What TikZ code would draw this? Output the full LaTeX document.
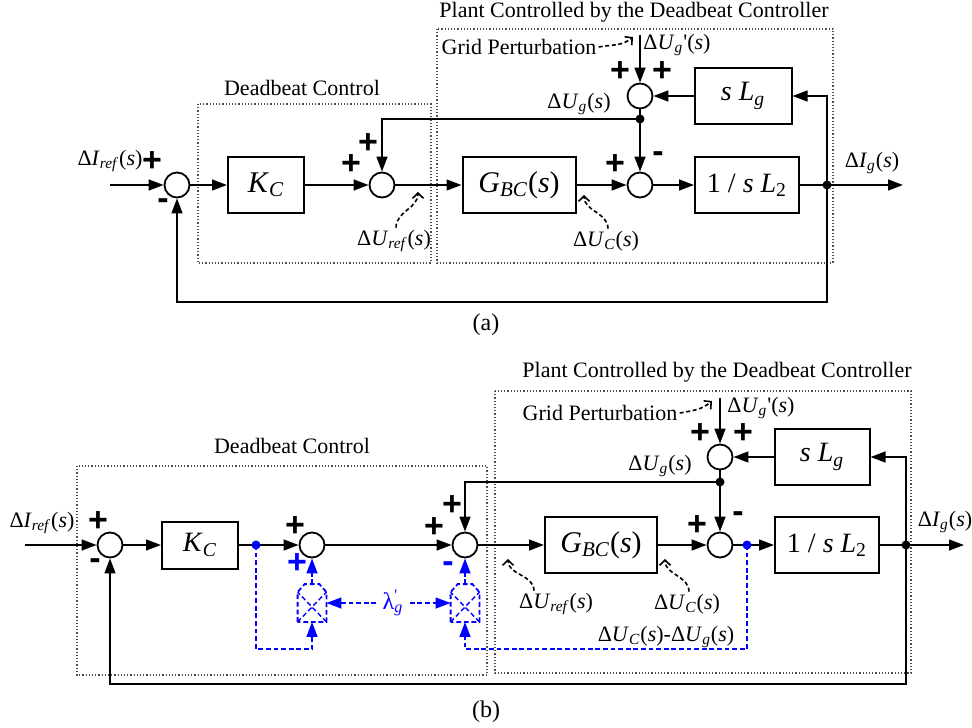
\documentclass[tikz,border=0pt]{standalone}
\usepackage{fontspec}
\setmainfont{Liberation Serif}
\setsansfont{Liberation Sans}
\usepackage{tikz}
\usetikzlibrary{positioning,arrows.meta,calc}
\newcommand{\dsig}[2]{Δ\textit{#1}\textsubscript{\textit{#2}}(\textit{s})}
\newcommand{\dsigp}[2]{Δ\textit{#1}\textsubscript{\textit{#2}}\textquotesingle(\textit{s})}

\begin{document}
\begin{tikzpicture}[
    x=0.5pt, y=-0.5pt,
    block/.style={rectangle, draw, line width=1pt, minimum height=28pt,
                  inner sep=0pt, font=\fontsize{15}{18}\selectfont},
    summer/.style={circle, draw, fill=white, line width=0.9pt, minimum size=12.5pt, inner sep=0pt},
    dot/.style={circle, fill, minimum size=4.5pt, inner sep=0pt},
    bdot/.style={dot, fill=blue},
    frame/.style={draw=black!70, densely dotted, line width=0.6pt},
    annot/.style={font=\fontsize{11}{13}\selectfont, inner sep=1pt},
    sign/.style={font=\fontsize{17}{17}\sffamily\bfseries, inner sep=0pt},
    arrow/.style={-{Triangle[length=7.5pt, width=5.4pt]}, line width=1pt},
    wire/.style={line width=1pt},
    bdash/.style={blue, dash pattern=on 2.4pt off 1.4pt, line width=1pt},
    barrow/.style={arrow, bdash},
    squig/.style={dash pattern=on 2pt off 1.3pt, line width=0.8pt,
                  -{Straight Barb[length=2.6pt, width=5.5pt]}},
    mult/.style={rectangle, minimum width=14pt, minimum height=18.5pt, inner sep=0pt},
]
\useasboundingbox (0,0) rectangle (972,727);

% ---------------- (a) ----------------
% frames
\draw[frame] (437,29) rectangle (833,263);
\draw[frame] (198,104) rectangle (431,263);
\node[annot] (plantA) at (634,12) {Plant Controlled by the Deadbeat Controller};
\node[annot] (dbA) at (302,88) {Deadbeat Control};

% blocks and summers
\node[summer] (s1a) at (177,185) {};
\node[block, minimum width=38pt] (kcA) at (266,185) {\textit{K}\textsubscript{\textit{C}}};
\node[summer] (s2a) at (382,185) {};
\node[block, minimum width=56.5pt] (gbcA) at (519,185) {\textit{G}\textsubscript{\textit{BC}}(\textit{s})};
\node[summer] (s3a) at (640,185) {};
\node[block, minimum width=52pt, font=\fontsize{14}{17}\selectfont] (l2A) at (747,185) {1 / \textit{s L}\textsubscript{2}};
\node[summer] (sgA) at (640,96) {};
\node[block, minimum width=48.5pt, font=\fontsize{14}{17}\selectfont] (lgA) at (743,96) {\textit{s L}\textsubscript{\textit{g}}};
\coordinate (inA) at (110,185);
\coordinate (outA) at (903,185);
\coordinate (brA) at (827,185);
\coordinate (ugA) at (640,119);
\coordinate (fbA) at (827,302);
\coordinate (topA) at (640,35);
\coordinate (gpA) at (633,37);

% connectors
\draw[arrow] (inA) -- (s1a);
\draw[arrow] (s1a) -- (kcA);
\draw[arrow] (kcA) -- (s2a);
\draw[arrow] (s2a) -- (gbcA);
\draw[arrow] (gbcA) -- (s3a);
\draw[arrow] (s3a) -- (l2A);
\draw[wire] (l2A) -- (brA);
\draw[arrow] (brA) -- (outA);
\draw[arrow] (brA) -- (fbA) -| (s1a);
\draw[arrow] (brA) |- (lgA);
\draw[arrow] (lgA) -- (sgA);
\draw[arrow] (topA) -- (sgA);
\draw[wire] (sgA) -- (ugA);
\draw[arrow] (ugA) -- (s3a);
\draw[arrow] (ugA) -| (s2a);
\node[dot] (brAdot) at (brA) {};
\node[dot] (ugAdot) at (ugA) {};

% labels
\node[annot] (irefA) at (110,161) {\dsig{I}{ref}};
\node[annot] (igA) at (872,163) {\dsig{I}{g}};
\node[annot] (ugpA) at (677,45) {\dsigp{U}{g}};
\node[annot] (ugLA) at (579,104) {\dsig{U}{g}};
\node[annot] (urefA) at (394,241) {\dsig{U}{ref}};
\node[annot] (ucA) at (606,241) {\dsig{U}{C}};
\node[annot] (gridA) at (519,47) {Grid Perturbation};
\draw[squig] (gridA.east) to[out=10, in=-140] (gpA);
\draw[squig] (urefA.north) ++(2,0) to[out=90, in=-90] (418,192);
\draw[squig] (ucA.north) ++(2,0) to[out=90, in=-90] (584,195);

% signs
\node[sign] (pa1) at (152,162) {+};
\node[sign] (ma1) at (163,204) {-};
\node[sign] (pa2) at (351,165) {+};
\node[sign] (pa3) at (368,144) {+};
\node[sign] (pa4) at (615,165) {+};
\node[sign] (ma4) at (658,157) {-};
\node[sign] (pa5) at (620,72) {+};
\node[sign] (pa6) at (662,72) {+};

\node[annot, font=\fontsize{12}{14}\selectfont] (capA) at (486,325) {(a)};

% ---------------- (b) ----------------
% frames
\draw[frame] (495,391) rectangle (911,673);
\draw[frame] (77,466) rectangle (487,675);
\node[annot] (plantB) at (717,372) {Plant Controlled by the Deadbeat Controller};
\node[annot] (dbB) at (292,446) {Deadbeat Control};

% blocks and summers
\node[summer] (s1b) at (110,545) {};
\node[block, minimum width=38pt, minimum height=23.5pt, font=\fontsize{14}{17}\selectfont] (kcB) at (200,545) {\textit{K}\textsubscript{\textit{C}}};
\node[summer] (sAb) at (312,545) {};
\node[summer] (sBb) at (465,545) {};
\node[block, minimum width=56pt] (gbcB) at (601,545) {\textit{G}\textsubscript{\textit{BC}}(\textit{s})};
\node[summer] (s3b) at (720,545) {};
\node[block, minimum width=52pt, font=\fontsize{14}{17}\selectfont] (l2B) at (827,545) {1 / \textit{s L}\textsubscript{2}};
\node[summer] (sgB) at (720,457) {};
\node[block, minimum width=47.5pt, font=\fontsize{14}{17}\selectfont] (lgB) at (822,457) {\textit{s L}\textsubscript{\textit{g}}};
\node[mult] (mA) at (312,603) {};
\node[mult] (mB) at (465,603) {};
\coordinate (inB) at (25,545);
\coordinate (outB) at (964,545);
\coordinate (brB) at (906,545);
\coordinate (ugB) at (720,482);
\coordinate (fbB) at (906,684);
\coordinate (topB) at (720,398);
\coordinate (gpB) at (712,401);
\coordinate (jA) at (256,545);
\coordinate (jB) at (747,545);
\coordinate (cA) at (312,649);
\coordinate (cB) at (465,649);

% multipliers (dashed house with a cross)
\foreach \m in {mA,mB}{
  \draw[bdash, line width=0.9pt] (\m.south west) -- ($(\m.north west)+(0,8)$) -- ($(\m.north west)+(7,0)$)
    -- ($(\m.north east)+(-7,0)$) -- ($(\m.north east)+(0,8)$) -- (\m.south east) -- cycle;
  \draw[bdash, line width=0.7pt] (\m.south west) -- ($(\m.north east)+(0,8)$)
    (\m.south east) -- ($(\m.north west)+(0,8)$);
}

% connectors
\draw[arrow] (inB) -- (s1b);
\draw[arrow] (s1b) -- (kcB);
\draw[wire] (kcB) -- (jA);
\draw[arrow] (jA) -- (sAb);
\draw[arrow] (sAb) -- (sBb);
\draw[arrow] (sBb) -- (gbcB);
\draw[arrow] (gbcB) -- (s3b);
\draw[wire] (s3b) -- (jB);
\draw[arrow] (jB) -- (l2B);
\draw[wire] (l2B) -- (brB);
\draw[arrow] (brB) -- (outB);
\draw[arrow] (brB) -- (fbB) -| (s1b);
\draw[arrow] (brB) |- (lgB);
\draw[arrow] (lgB) -- (sgB);
\draw[arrow] (topB) -- (sgB);
\draw[wire] (sgB) -- (ugB);
\draw[arrow] (ugB) -- (s3b);
\draw[arrow] (ugB) -| (sBb);

% blue compensation paths
\draw[barrow] (jA) -- (jA |- cA) -- (cA) -- (mA);
\draw[barrow] (jB) -- (jB |- cB) -- (cB) -- (mB);
\draw[barrow] (mA) -- (sAb);
\draw[barrow] (mB) -- (sBb);
\node[annot, text=blue, font=\fontsize{12}{14}\selectfont, inner sep=3pt] (lam) at (393,603) {λ\rlap{\textsuperscript{\textquotesingle}}\textsubscript{\textit{g}}};
\draw[barrow] (lam) -- (mA);
\draw[barrow] (lam) -- (mB);
\node[dot] (brBdot) at (brB) {};
\node[dot] (ugBdot) at (ugB) {};
\node[bdot] (jAdot) at (jA) {};
\node[bdot] (jBdot) at (jB) {};

% labels
\node[annot] (irefB) at (42,523) {\dsig{I}{ref}};
\node[annot] (igB) at (945,522) {\dsig{I}{g}};
\node[annot] (ugpB) at (761,408) {\dsigp{U}{g}};
\node[annot] (ugLB) at (660,466) {\dsig{U}{g}};
\node[annot] (urefB) at (556,604) {\dsig{U}{ref}};
\node[annot] (ucB) at (687,604) {\dsig{U}{C}};
\node[annot] (ucugB) at (666,637) {\dsig{U}{C}-\dsig{U}{g}};
\node[annot] (gridB) at (600,413) {Grid Perturbation};
\draw[squig] (gridB.east) to[out=10, in=-140] (gpB);
\draw[squig] (urefB.north) ++(-22,0) to[out=90, in=-90] (508,559);
\draw[squig] (ucB.north) ++(2,0) to[out=90, in=-90] (665,559);

% signs
\node[sign] (pb1) at (98,522) {+};
\node[sign] (mb1) at (95,564) {-};
\node[sign] (pb2) at (295,527) {+};
\node[sign, blue] (pb3) at (297,564) {+};
\node[sign] (pb4) at (434,528) {+};
\node[sign] (pb5) at (452,506) {+};
\node[sign, blue] (mb5) at (448,567) {-};
\node[sign] (pb6) at (697,526) {+};
\node[sign] (mb6) at (738,517) {-};
\node[sign] (pb7) at (700,434) {+};
\node[sign] (pb8) at (743,434) {+};

\node[annot, font=\fontsize{12}{14}\selectfont] (capB) at (486,712) {(b)};

\end{tikzpicture}
\end{document}
